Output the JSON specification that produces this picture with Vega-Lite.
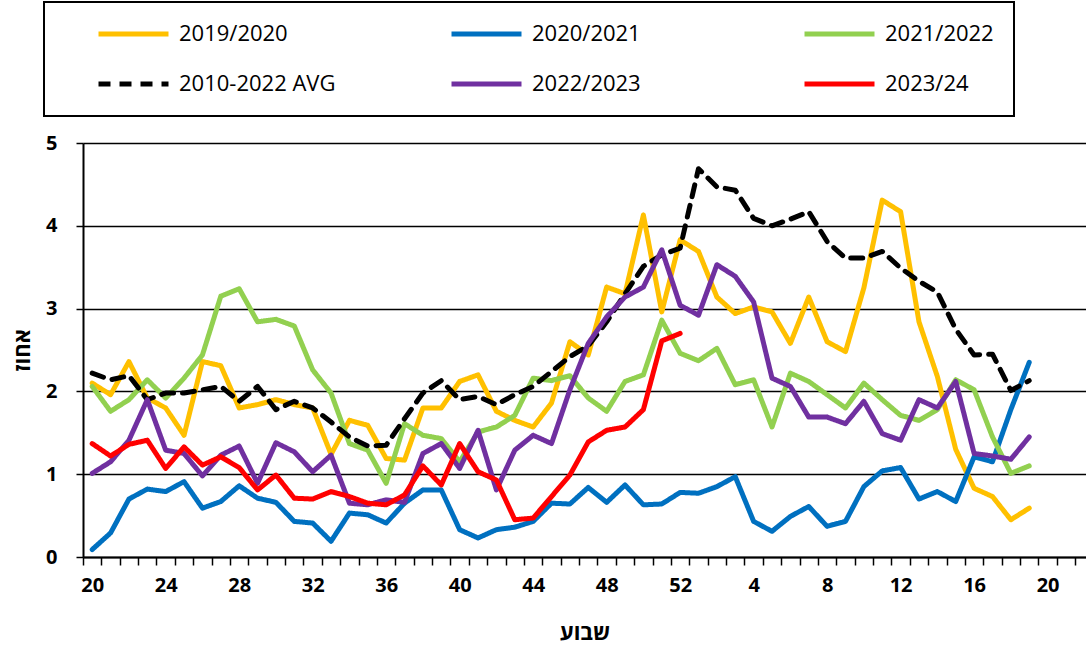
{
  "$schema": "https://vega.github.io/schema/vega-lite/v6.json",
  "width": 1003,
  "height": 414,
  "autosize": {"type": "none"},
  "padding": {"left": 83, "top": 143, "right": 0, "bottom": 89},
  "background": "white",
  "config": {"view": {"stroke": null}, "font": "Open Sans", "legend": {"strokeWidth": 2}},
  "data": {"values": [
{"idx":0,"season":"2019/2020","value":2.10},{"idx":1,"season":"2019/2020","value":1.96},{"idx":2,"season":"2019/2020","value":2.36},{"idx":3,"season":"2019/2020","value":1.92},{"idx":4,"season":"2019/2020","value":1.80},{"idx":5,"season":"2019/2020","value":1.47},{"idx":6,"season":"2019/2020","value":2.36},{"idx":7,"season":"2019/2020","value":2.31},{"idx":8,"season":"2019/2020","value":1.80},{"idx":9,"season":"2019/2020","value":1.84},{"idx":10,"season":"2019/2020","value":1.90},{"idx":11,"season":"2019/2020","value":1.84},{"idx":12,"season":"2019/2020","value":1.80},{"idx":13,"season":"2019/2020","value":1.24},{"idx":14,"season":"2019/2020","value":1.65},{"idx":15,"season":"2019/2020","value":1.59},{"idx":16,"season":"2019/2020","value":1.19},{"idx":17,"season":"2019/2020","value":1.17},{"idx":18,"season":"2019/2020","value":1.80},{"idx":19,"season":"2019/2020","value":1.80},{"idx":20,"season":"2019/2020","value":2.12},{"idx":21,"season":"2019/2020","value":2.20},{"idx":22,"season":"2019/2020","value":1.76},{"idx":23,"season":"2019/2020","value":1.65},{"idx":24,"season":"2019/2020","value":1.57},{"idx":25,"season":"2019/2020","value":1.86},{"idx":26,"season":"2019/2020","value":2.60},{"idx":27,"season":"2019/2020","value":2.44},{"idx":28,"season":"2019/2020","value":3.26},{"idx":29,"season":"2019/2020","value":3.18},{"idx":30,"season":"2019/2020","value":4.13},{"idx":31,"season":"2019/2020","value":2.96},{"idx":32,"season":"2019/2020","value":3.83},{"idx":33,"season":"2019/2020","value":3.69},{"idx":34,"season":"2019/2020","value":3.14},{"idx":35,"season":"2019/2020","value":2.94},{"idx":36,"season":"2019/2020","value":3.02},{"idx":37,"season":"2019/2020","value":2.96},{"idx":38,"season":"2019/2020","value":2.58},{"idx":39,"season":"2019/2020","value":3.14},{"idx":40,"season":"2019/2020","value":2.60},{"idx":41,"season":"2019/2020","value":2.48},{"idx":42,"season":"2019/2020","value":3.25},{"idx":43,"season":"2019/2020","value":4.31},{"idx":44,"season":"2019/2020","value":4.17},{"idx":45,"season":"2019/2020","value":2.84},{"idx":46,"season":"2019/2020","value":2.18},{"idx":47,"season":"2019/2020","value":1.30},{"idx":48,"season":"2019/2020","value":0.83},{"idx":49,"season":"2019/2020","value":0.73},{"idx":50,"season":"2019/2020","value":0.45},{"idx":51,"season":"2019/2020","value":0.59},
{"idx":0,"season":"2020/2021","value":0.09},{"idx":1,"season":"2020/2021","value":0.29},{"idx":2,"season":"2020/2021","value":0.70},{"idx":3,"season":"2020/2021","value":0.82},{"idx":4,"season":"2020/2021","value":0.79},{"idx":5,"season":"2020/2021","value":0.91},{"idx":6,"season":"2020/2021","value":0.59},{"idx":7,"season":"2020/2021","value":0.67},{"idx":8,"season":"2020/2021","value":0.86},{"idx":9,"season":"2020/2021","value":0.71},{"idx":10,"season":"2020/2021","value":0.66},{"idx":11,"season":"2020/2021","value":0.43},{"idx":12,"season":"2020/2021","value":0.41},{"idx":13,"season":"2020/2021","value":0.19},{"idx":14,"season":"2020/2021","value":0.53},{"idx":15,"season":"2020/2021","value":0.51},{"idx":16,"season":"2020/2021","value":0.41},{"idx":17,"season":"2020/2021","value":0.65},{"idx":18,"season":"2020/2021","value":0.81},{"idx":19,"season":"2020/2021","value":0.81},{"idx":20,"season":"2020/2021","value":0.33},{"idx":21,"season":"2020/2021","value":0.23},{"idx":22,"season":"2020/2021","value":0.33},{"idx":23,"season":"2020/2021","value":0.36},{"idx":24,"season":"2020/2021","value":0.43},{"idx":25,"season":"2020/2021","value":0.65},{"idx":26,"season":"2020/2021","value":0.64},{"idx":27,"season":"2020/2021","value":0.84},{"idx":28,"season":"2020/2021","value":0.66},{"idx":29,"season":"2020/2021","value":0.87},{"idx":30,"season":"2020/2021","value":0.63},{"idx":31,"season":"2020/2021","value":0.64},{"idx":32,"season":"2020/2021","value":0.78},{"idx":33,"season":"2020/2021","value":0.77},{"idx":34,"season":"2020/2021","value":0.85},{"idx":35,"season":"2020/2021","value":0.97},{"idx":36,"season":"2020/2021","value":0.43},{"idx":37,"season":"2020/2021","value":0.31},{"idx":38,"season":"2020/2021","value":0.49},{"idx":39,"season":"2020/2021","value":0.61},{"idx":40,"season":"2020/2021","value":0.37},{"idx":41,"season":"2020/2021","value":0.43},{"idx":42,"season":"2020/2021","value":0.85},{"idx":43,"season":"2020/2021","value":1.04},{"idx":44,"season":"2020/2021","value":1.08},{"idx":45,"season":"2020/2021","value":0.70},{"idx":46,"season":"2020/2021","value":0.79},{"idx":47,"season":"2020/2021","value":0.67},{"idx":48,"season":"2020/2021","value":1.21},{"idx":49,"season":"2020/2021","value":1.15},{"idx":50,"season":"2020/2021","value":1.78},{"idx":51,"season":"2020/2021","value":2.35},
{"idx":0,"season":"2021/2022","value":2.06},{"idx":1,"season":"2021/2022","value":1.76},{"idx":2,"season":"2021/2022","value":1.90},{"idx":3,"season":"2021/2022","value":2.14},{"idx":4,"season":"2021/2022","value":1.92},{"idx":5,"season":"2021/2022","value":2.16},{"idx":6,"season":"2021/2022","value":2.44},{"idx":7,"season":"2021/2022","value":3.15},{"idx":8,"season":"2021/2022","value":3.24},{"idx":9,"season":"2021/2022","value":2.84},{"idx":10,"season":"2021/2022","value":2.87},{"idx":11,"season":"2021/2022","value":2.79},{"idx":12,"season":"2021/2022","value":2.26},{"idx":13,"season":"2021/2022","value":1.98},{"idx":14,"season":"2021/2022","value":1.37},{"idx":15,"season":"2021/2022","value":1.29},{"idx":16,"season":"2021/2022","value":0.89},{"idx":17,"season":"2021/2022","value":1.61},{"idx":18,"season":"2021/2022","value":1.47},{"idx":19,"season":"2021/2022","value":1.43},{"idx":20,"season":"2021/2022","value":1.15},{"idx":21,"season":"2021/2022","value":1.51},{"idx":22,"season":"2021/2022","value":1.57},{"idx":23,"season":"2021/2022","value":1.71},{"idx":24,"season":"2021/2022","value":2.16},{"idx":25,"season":"2021/2022","value":2.13},{"idx":26,"season":"2021/2022","value":2.19},{"idx":27,"season":"2021/2022","value":1.92},{"idx":28,"season":"2021/2022","value":1.76},{"idx":29,"season":"2021/2022","value":2.12},{"idx":30,"season":"2021/2022","value":2.20},{"idx":31,"season":"2021/2022","value":2.86},{"idx":32,"season":"2021/2022","value":2.46},{"idx":33,"season":"2021/2022","value":2.37},{"idx":34,"season":"2021/2022","value":2.52},{"idx":35,"season":"2021/2022","value":2.08},{"idx":36,"season":"2021/2022","value":2.14},{"idx":37,"season":"2021/2022","value":1.57},{"idx":38,"season":"2021/2022","value":2.22},{"idx":39,"season":"2021/2022","value":2.12},{"idx":40,"season":"2021/2022","value":1.96},{"idx":41,"season":"2021/2022","value":1.80},{"idx":42,"season":"2021/2022","value":2.10},{"idx":43,"season":"2021/2022","value":1.90},{"idx":44,"season":"2021/2022","value":1.71},{"idx":45,"season":"2021/2022","value":1.65},{"idx":46,"season":"2021/2022","value":1.78},{"idx":47,"season":"2021/2022","value":2.14},{"idx":48,"season":"2021/2022","value":2.02},{"idx":49,"season":"2021/2022","value":1.45},{"idx":50,"season":"2021/2022","value":1.01},{"idx":51,"season":"2021/2022","value":1.10},
{"idx":0,"season":"2010-2022 AVG","value":2.22},{"idx":1,"season":"2010-2022 AVG","value":2.14},{"idx":2,"season":"2010-2022 AVG","value":2.19},{"idx":3,"season":"2010-2022 AVG","value":1.90},{"idx":4,"season":"2010-2022 AVG","value":1.98},{"idx":5,"season":"2010-2022 AVG","value":1.98},{"idx":6,"season":"2010-2022 AVG","value":2.02},{"idx":7,"season":"2010-2022 AVG","value":2.06},{"idx":8,"season":"2010-2022 AVG","value":1.88},{"idx":9,"season":"2010-2022 AVG","value":2.06},{"idx":10,"season":"2010-2022 AVG","value":1.78},{"idx":11,"season":"2010-2022 AVG","value":1.88},{"idx":12,"season":"2010-2022 AVG","value":1.80},{"idx":13,"season":"2010-2022 AVG","value":1.63},{"idx":14,"season":"2010-2022 AVG","value":1.45},{"idx":15,"season":"2010-2022 AVG","value":1.34},{"idx":16,"season":"2010-2022 AVG","value":1.35},{"idx":17,"season":"2010-2022 AVG","value":1.67},{"idx":18,"season":"2010-2022 AVG","value":1.98},{"idx":19,"season":"2010-2022 AVG","value":2.13},{"idx":20,"season":"2010-2022 AVG","value":1.90},{"idx":21,"season":"2010-2022 AVG","value":1.94},{"idx":22,"season":"2010-2022 AVG","value":1.84},{"idx":23,"season":"2010-2022 AVG","value":1.96},{"idx":24,"season":"2010-2022 AVG","value":2.06},{"idx":25,"season":"2010-2022 AVG","value":2.24},{"idx":26,"season":"2010-2022 AVG","value":2.42},{"idx":27,"season":"2010-2022 AVG","value":2.55},{"idx":28,"season":"2010-2022 AVG","value":2.84},{"idx":29,"season":"2010-2022 AVG","value":3.18},{"idx":30,"season":"2010-2022 AVG","value":3.51},{"idx":31,"season":"2010-2022 AVG","value":3.65},{"idx":32,"season":"2010-2022 AVG","value":3.73},{"idx":33,"season":"2010-2022 AVG","value":4.69},{"idx":34,"season":"2010-2022 AVG","value":4.47},{"idx":35,"season":"2010-2022 AVG","value":4.43},{"idx":36,"season":"2010-2022 AVG","value":4.09},{"idx":37,"season":"2010-2022 AVG","value":4.00},{"idx":38,"season":"2010-2022 AVG","value":4.08},{"idx":39,"season":"2010-2022 AVG","value":4.17},{"idx":40,"season":"2010-2022 AVG","value":3.81},{"idx":41,"season":"2010-2022 AVG","value":3.61},{"idx":42,"season":"2010-2022 AVG","value":3.61},{"idx":43,"season":"2010-2022 AVG","value":3.69},{"idx":44,"season":"2010-2022 AVG","value":3.49},{"idx":45,"season":"2010-2022 AVG","value":3.33},{"idx":46,"season":"2010-2022 AVG","value":3.20},{"idx":47,"season":"2010-2022 AVG","value":2.75},{"idx":48,"season":"2010-2022 AVG","value":2.44},{"idx":49,"season":"2010-2022 AVG","value":2.45},{"idx":50,"season":"2010-2022 AVG","value":2.01},{"idx":51,"season":"2010-2022 AVG","value":2.13},
{"idx":0,"season":"2022/2023","value":1.01},{"idx":1,"season":"2022/2023","value":1.15},{"idx":2,"season":"2022/2023","value":1.41},{"idx":3,"season":"2022/2023","value":1.90},{"idx":4,"season":"2022/2023","value":1.29},{"idx":5,"season":"2022/2023","value":1.25},{"idx":6,"season":"2022/2023","value":0.98},{"idx":7,"season":"2022/2023","value":1.23},{"idx":8,"season":"2022/2023","value":1.34},{"idx":9,"season":"2022/2023","value":0.89},{"idx":10,"season":"2022/2023","value":1.38},{"idx":11,"season":"2022/2023","value":1.27},{"idx":12,"season":"2022/2023","value":1.03},{"idx":13,"season":"2022/2023","value":1.23},{"idx":14,"season":"2022/2023","value":0.65},{"idx":15,"season":"2022/2023","value":0.63},{"idx":16,"season":"2022/2023","value":0.69},{"idx":17,"season":"2022/2023","value":0.66},{"idx":18,"season":"2022/2023","value":1.25},{"idx":19,"season":"2022/2023","value":1.37},{"idx":20,"season":"2022/2023","value":1.07},{"idx":21,"season":"2022/2023","value":1.53},{"idx":22,"season":"2022/2023","value":0.81},{"idx":23,"season":"2022/2023","value":1.29},{"idx":24,"season":"2022/2023","value":1.47},{"idx":25,"season":"2022/2023","value":1.37},{"idx":26,"season":"2022/2023","value":2.02},{"idx":27,"season":"2022/2023","value":2.58},{"idx":28,"season":"2022/2023","value":2.90},{"idx":29,"season":"2022/2023","value":3.14},{"idx":30,"season":"2022/2023","value":3.26},{"idx":31,"season":"2022/2023","value":3.71},{"idx":32,"season":"2022/2023","value":3.04},{"idx":33,"season":"2022/2023","value":2.92},{"idx":34,"season":"2022/2023","value":3.53},{"idx":35,"season":"2022/2023","value":3.39},{"idx":36,"season":"2022/2023","value":3.08},{"idx":37,"season":"2022/2023","value":2.16},{"idx":38,"season":"2022/2023","value":2.06},{"idx":39,"season":"2022/2023","value":1.69},{"idx":40,"season":"2022/2023","value":1.69},{"idx":41,"season":"2022/2023","value":1.61},{"idx":42,"season":"2022/2023","value":1.88},{"idx":43,"season":"2022/2023","value":1.49},{"idx":44,"season":"2022/2023","value":1.41},{"idx":45,"season":"2022/2023","value":1.90},{"idx":46,"season":"2022/2023","value":1.80},{"idx":47,"season":"2022/2023","value":2.12},{"idx":48,"season":"2022/2023","value":1.25},{"idx":49,"season":"2022/2023","value":1.22},{"idx":50,"season":"2022/2023","value":1.18},{"idx":51,"season":"2022/2023","value":1.45},
{"idx":0,"season":"2023/24","value":1.37},{"idx":1,"season":"2023/24","value":1.22},{"idx":2,"season":"2023/24","value":1.36},{"idx":3,"season":"2023/24","value":1.41},{"idx":4,"season":"2023/24","value":1.07},{"idx":5,"season":"2023/24","value":1.33},{"idx":6,"season":"2023/24","value":1.11},{"idx":7,"season":"2023/24","value":1.21},{"idx":8,"season":"2023/24","value":1.08},{"idx":9,"season":"2023/24","value":0.81},{"idx":10,"season":"2023/24","value":0.99},{"idx":11,"season":"2023/24","value":0.71},{"idx":12,"season":"2023/24","value":0.70},{"idx":13,"season":"2023/24","value":0.79},{"idx":14,"season":"2023/24","value":0.73},{"idx":15,"season":"2023/24","value":0.65},{"idx":16,"season":"2023/24","value":0.63},{"idx":17,"season":"2023/24","value":0.75},{"idx":18,"season":"2023/24","value":1.10},{"idx":19,"season":"2023/24","value":0.87},{"idx":20,"season":"2023/24","value":1.37},{"idx":21,"season":"2023/24","value":1.03},{"idx":22,"season":"2023/24","value":0.93},{"idx":23,"season":"2023/24","value":0.45},{"idx":24,"season":"2023/24","value":0.47},{"idx":25,"season":"2023/24","value":0.73},{"idx":26,"season":"2023/24","value":0.99},{"idx":27,"season":"2023/24","value":1.39},{"idx":28,"season":"2023/24","value":1.53},{"idx":29,"season":"2023/24","value":1.57},{"idx":30,"season":"2023/24","value":1.78},{"idx":31,"season":"2023/24","value":2.61},{"idx":32,"season":"2023/24","value":2.70}
  ]},
  "mark": {"type": "line", "strokeWidth": 5, "strokeCap": "round", "strokeJoin": "round"},
  "encoding": {
    "x": {
      "field": "idx", "type": "quantitative",
      "scale": {"domain": [-0.5, 54.09], "nice": false, "zero": false},
      "axis": {
        "values": [-0.5,0.5,1.5,2.5,3.5,4.5,5.5,6.5,7.5,8.5,9.5,10.5,11.5,12.5,13.5,14.5,15.5,16.5,17.5,18.5,19.5,20.5,21.5,22.5,23.5,24.5,25.5,26.5,27.5,28.5,29.5,30.5,31.5,32.5,33.5,34.5,35.5,36.5,37.5,38.5,39.5,40.5,41.5,42.5,43.5,44.5,45.5,46.5,47.5,48.5,49.5,50.5,51.5,52.5,53.5,0,4,8,12,16,20,24,28,32,36,40,44,48,52],
        "labelExpr": "datum.value % 1 != 0 ? '' : (datum.value <= 32 ? '' + (datum.value + 20) : '' + (datum.value - 32))",
        "tickOpacity": {"condition": {"test": "datum.value % 1 == 0", "value": 0}, "value": 1},
        "grid": false,
        "domainColor": "black", "domainWidth": 2,
        "tickColor": "black", "tickWidth": 1.5, "tickSize": 8,
        "labelFontSize": 20, "labelFontWeight": "bold", "labelColor": "black",
        "labelPadding": 10, "labelFlush": false, "labelOverlap": false,
        "title": "שבוע", "titleFontSize": 22, "titleFontWeight": "bold", "titleColor": "black",
        "titleY": 75, "titleBaseline": "middle"
      }
    },
    "y": {
      "field": "value", "type": "quantitative",
      "scale": {"domain": [0, 5], "nice": false},
      "axis": {
        "values": [0,1,2,3,4,5],
        "grid": true, "gridColor": "black", "gridWidth": 1.5, "gridOpacity": 1,
        "domainColor": "black", "domainWidth": 2,
        "tickColor": "black", "tickSize": 7, "tickWidth": 1.5,
        "labelFontSize": 20, "labelFontWeight": "bold", "labelColor": "black",
        "labelPadding": 19, "labelFlush": false,
        "title": "אחוז", "titleFontSize": 22, "titleFontWeight": "bold", "titleColor": "black",
        "titleX": -61, "titleY": 207, "titleAngle": -90, "titleAlign": "center", "titleBaseline": "middle"
      }
    },
    "color": {
      "field": "season", "type": "nominal",
      "scale": {
        "domain": ["2019/2020","2020/2021","2021/2022","2010-2022 AVG","2022/2023","2023/24"],
        "range": ["#FFC000","#0070C0","#92D050","#000000","#7030A0","#FF0000"]
      },
      "legend": {
        "orient": "none", "legendX": -39, "legendY": -141,
        "direction": "horizontal", "columns": 3, "gridAlign": "all",
        "columnPadding": 113, "rowPadding": 26, "clipHeight": 24,
        "symbolType": "stroke", "symbolSize": 4900, "symbolStrokeWidth": 5,
        "labelFontSize": 22, "labelColor": "black", "labelOffset": 8, "labelLimit": 400,
        "padding": 20, "strokeColor": "black",
        "title": " ", "titleOrient": "left", "titlePadding": 32, "titleFontSize": 20
      }
    },
    "strokeDash": {
      "field": "season", "type": "nominal",
      "scale": {
        "domain": ["2019/2020","2020/2021","2021/2022","2010-2022 AVG","2022/2023","2023/24"],
        "range": [[1,0],[1,0],[1,0],[12,9],[1,0],[1,0]]
      },
      "legend": {
        "orient": "none", "legendX": -39, "legendY": -141,
        "direction": "horizontal", "columns": 3, "gridAlign": "all",
        "columnPadding": 113, "rowPadding": 26, "clipHeight": 24,
        "symbolType": "stroke", "symbolSize": 4900, "symbolStrokeWidth": 5,
        "labelFontSize": 22, "labelColor": "black", "labelOffset": 8, "labelLimit": 400,
        "padding": 20, "strokeColor": "black",
        "title": " ", "titleOrient": "left", "titlePadding": 32, "titleFontSize": 20
      }
    }
  }
}
